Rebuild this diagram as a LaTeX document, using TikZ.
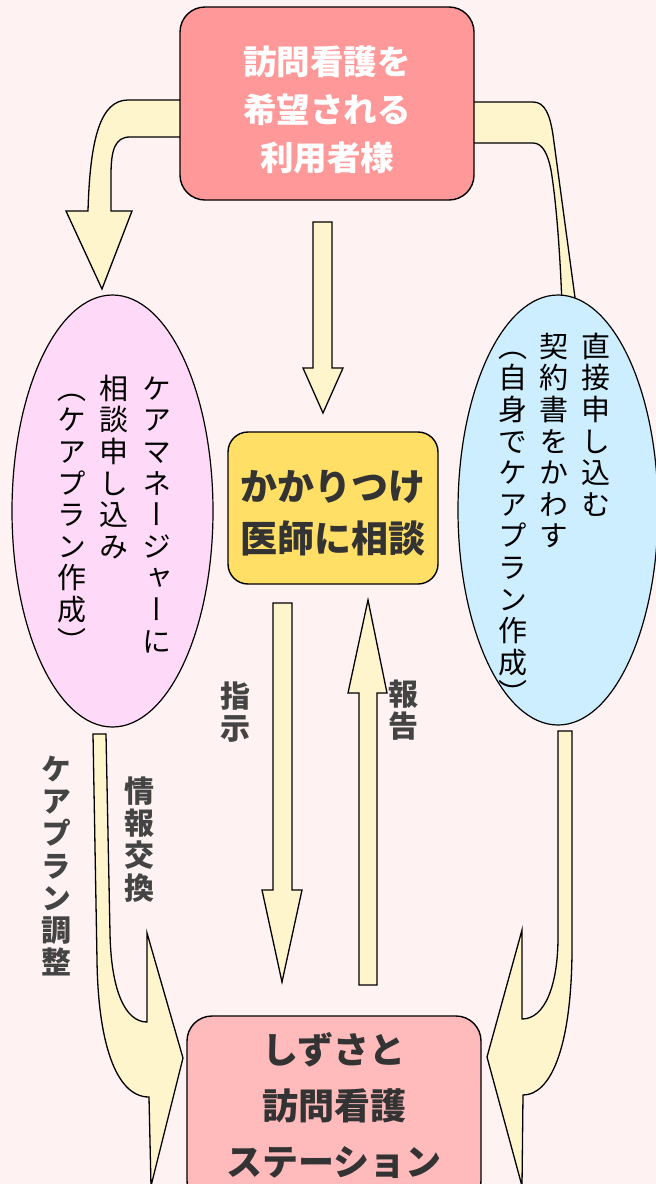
\documentclass[tikz,border=0pt]{standalone}
\usepackage{fontspec}
\usetikzlibrary{shapes.geometric,backgrounds}
\newfontfamily\jp{Noto Sans CJK JP}
\newfontfamily\jpv[RawFeature=+vert]{Noto Sans CJK JP}
\definecolor{bg}{HTML}{FFF2F2}
\definecolor{topc}{HTML}{FF9999}
\definecolor{cream}{HTML}{FFF5CC}
\definecolor{cmc}{HTML}{FFDAF8}
\definecolor{dirc}{HTML}{CCEEFF}
\definecolor{docc}{HTML}{FFDF66}
\definecolor{stc}{HTML}{FFBBBB}
\definecolor{dark}{HTML}{333333}
\definecolor{lab}{HTML}{444444}
\makeatletter
\newcommand\vcol[2][31.6pt]{\vbox{\baselineskip=#1\lineskiplimit=-\maxdimen\@for\vc@c:=#2\do{\hbox to 1em{\hss\rule[-0.12em]{0pt}{1em}\vc@c\hss}}}}
\makeatother
\tikzset{
  boxnode/.style={draw=black, line width=1.4pt, rounded corners=25pt, inner sep=0pt},
  ellnode/.style={ellipse, draw=black, line width=1.2pt, inner sep=0pt},
  blockarrow/.style={fill=cream, draw=black, line width=1.3pt, line join=miter},
  vt/.style={inner sep=0pt, anchor=north, text=black, font=\jpv\fontsize{29}{31.6}\selectfont},
  vlab/.style={inner sep=0pt, anchor=north, text=lab, font=\jpv\bfseries\fontsize{30}{32.3}\selectfont},
  boxtext/.style={inner sep=0pt, align=center}
}
\begin{document}
\begin{tikzpicture}[x=1pt,y=-1pt]
\useasboundingbox (0,0) rectangle (656,1184);
% nodes
\node[boxnode, fill=topc, minimum width=294pt, minimum height=193pt] (user) at (327,103.5) {};
\node[boxtext, text=white, font=\jp\bfseries\fontsize{33.5}{48}\selectfont] (usertxt) at (327,110) {訪問看護を\\希望される\\利用者様};
\node[boxnode, fill=docc, rounded corners=20pt, minimum width=210pt, minimum height=152pt] (doc) at (333,508) {};
\node[boxtext, text=dark, font=\jp\bfseries\fontsize{37}{52}\selectfont] (doctxt) at (333,513) {かかりつけ\\医師に相談};
\node[boxnode, fill=stc, minimum width=294pt, minimum height=190pt] (st) at (334,1111) {};
\node[boxtext, text=dark, font=\jp\bfseries\fontsize{36}{56}\selectfont] (sttxt) at (334,1105) {しずさと\\訪問看護\\ステーション};
\node[ellnode, fill=cmc, minimum width=201pt, minimum height=432pt] (cm) at (112.5,511) {};
\node[ellnode, fill=dirc, minimum width=200pt, minimum height=430pt] (direct) at (558,510) {};
% vertical texts in ellipses
\node[vt] (cm1) at (157,373.5) {\vcol{ケ,ア,マ,ネ,ー,ジ,ャ,ー,に}};
\node[vt] (cm2) at (114,373.5) {\vcol{相,談,申,し,込,み}};
\node[vt] (cm3) at (72,373.5) {\vcol{（,ケ,ア,プ,ラ,ン,作,成,）}};
\node[vt] (dr1) at (596,331.5) {\vcol{直,接,申,し,込,む}};
\node[vt] (dr2) at (554,331.5) {\vcol{契,約,書,を,か,わ,す}};
\node[vt] (dr3) at (513,331.5) {\vcol{（,自,身,で,ケ,ア,プ,ラ,ン,作,成,）}};
% labels
\node[vlab] (lshiji) at (235,680.5) {\vcol[32.3pt]{指,示}};
\node[vlab] (lhoukoku) at (403,678.5) {\vcol[32.3pt]{報,告}};
\node[vlab] (lchousei) at (56,753.5) {\vcol[32.3pt]{ケ,ア,プ,ラ,ン,調,整}};
\node[vlab] (ljouhou) at (139,775.5) {\vcol[32.3pt]{情,報,交,換}};
\begin{pgfonlayer}{background}
\fill[bg] (0,0) rectangle (656,1184);
% user -> care manager
\draw[blockarrow] (190,100) -- (128,100) .. controls (100,100) and (90,140) .. (88,211) -- (66,211) -- (102,289) -- (132,211) -- (111,211) -- (111,175) .. controls (111,150) and (115,137) .. (130,137) -- (190,137) -- cycle;
% user -> direct
\draw[blockarrow] (465,102) -- (533,102) .. controls (545,102) and (550,115) .. (553,135) -- (576,305) -- (562,305) .. controls (560,250) and (556,200) .. (551,170) .. controls (548,155) and (543,143) .. (533,143) -- (465,143) -- cycle;
% user -> doctor
\draw[blockarrow] (313,222) -- (332,222) -- (332,368) -- (343,368) -- (323,413) -- (303,368) -- (313,368) -- cycle;
% doctor -> station (指示)
\draw[blockarrow] (273,603) -- (292,603) -- (292,890) -- (302,890) -- (282,982) -- (262,890) -- (273,890) -- cycle;
% station -> doctor (報告)
\draw[blockarrow] (359,985) -- (377,985) -- (377,693) -- (387,693) -- (368,600) -- (348,693) -- (359,693) -- cycle;
% care manager -> station
\draw[blockarrow] (93,734) -- (106,734) -- (110,933) .. controls (111,990) and (125,1022) .. (147,1022) -- (147,933) -- (183,1058) -- (151,1186) -- (149,1097) .. controls (115,1097) and (98,1040) .. (97,960) -- cycle;
% direct -> station
\draw[blockarrow] (558,731) -- (572,731) -- (572,953) .. controls (571,1050) and (550,1095) .. (523,1095) -- (522,1186) -- (487,1057) -- (522,930) -- (522,1019) .. controls (545,1019) and (558,985) .. (558,937) -- cycle;
\end{pgfonlayer}
\end{tikzpicture}
\end{document}
